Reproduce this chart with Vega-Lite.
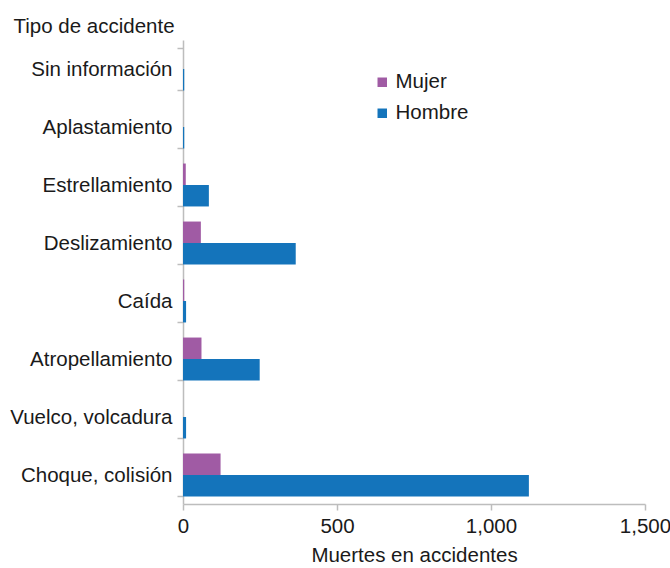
{
  "$schema": "https://vega.github.io/schema/vega-lite/v6.json",
  "width": 462,
  "height": 464,
  "autosize": {"type": "none"},
  "padding": {"left": 183, "top": 40, "right": 25, "bottom": 64},
  "background": "white",
  "config": {
    "view": {"stroke": null},
    "font": "Liberation Sans",
    "axis": {"labelFont": "Liberation Sans", "titleFont": "Liberation Sans", "labelColor": "#1a1a1a", "titleColor": "#1a1a1a", "titleFontWeight": "normal", "labelFontSize": 20.5, "titleFontSize": 20.5, "domainColor": "#bdbdbd", "tickColor": "#bdbdbd", "domainWidth": 1.5, "tickWidth": 1.5}
  },
  "data": {
    "values": [
      {"tipo": "Sin información", "sexo": "Mujer", "muertes": 0},
      {"tipo": "Sin información", "sexo": "Hombre", "muertes": 4},
      {"tipo": "Aplastamiento", "sexo": "Mujer", "muertes": 0},
      {"tipo": "Aplastamiento", "sexo": "Hombre", "muertes": 4},
      {"tipo": "Estrellamiento", "sexo": "Mujer", "muertes": 9},
      {"tipo": "Estrellamiento", "sexo": "Hombre", "muertes": 84},
      {"tipo": "Deslizamiento", "sexo": "Mujer", "muertes": 58},
      {"tipo": "Deslizamiento", "sexo": "Hombre", "muertes": 366},
      {"tipo": "Caída", "sexo": "Mujer", "muertes": 4},
      {"tipo": "Caída", "sexo": "Hombre", "muertes": 10},
      {"tipo": "Atropellamiento", "sexo": "Mujer", "muertes": 60},
      {"tipo": "Atropellamiento", "sexo": "Hombre", "muertes": 249},
      {"tipo": "Vuelco, volcadura", "sexo": "Mujer", "muertes": 0},
      {"tipo": "Vuelco, volcadura", "sexo": "Hombre", "muertes": 10},
      {"tipo": "Choque, colisión", "sexo": "Mujer", "muertes": 122},
      {"tipo": "Choque, colisión", "sexo": "Hombre", "muertes": 1123}
    ]
  },
  "mark": {"type": "bar"},
  "encoding": {
    "y": {
      "field": "tipo",
      "type": "nominal",
      "sort": ["Sin información", "Aplastamiento", "Estrellamiento", "Deslizamiento", "Caída", "Atropellamiento", "Vuelco, volcadura", "Choque, colisión"],
      "scale": {"paddingInner": 0.26, "paddingOuter": 0.13},
      "axis": {
        "title": "Tipo de accidente",
        "titleAngle": 0,
        "titleAlign": "left",
        "titleBaseline": "alphabetic",
        "titleX": -170,
        "titleY": -8,
        "tickBand": "extent",
        "tickSize": 6,
        "labelPadding": 5,
        "labelLimit": 250
      }
    },
    "yOffset": {"field": "sexo", "type": "nominal", "sort": ["Mujer", "Hombre"], "scale": {"paddingInner": 0}},
    "x": {
      "field": "muertes",
      "type": "quantitative",
      "scale": {"domain": [0, 1500]},
      "axis": {
        "title": "Muertes en accidentes",
        "values": [0, 500, 1000, 1500],
        "format": ",.0f",
        "grid": false,
        "labelFlush": false,
        "tickSize": 6,
        "labelPadding": 6,
        "titlePadding": 9
      }
    },
    "color": {
      "field": "sexo",
      "type": "nominal",
      "scale": {"domain": ["Mujer", "Hombre"], "range": ["#A05BA4", "#1474BB"]},
      "legend": {
        "title": null,
        "orient": "none",
        "legendX": 189,
        "legendY": 32,
        "symbolType": "square",
        "symbolSize": 90,
        "symbolStrokeWidth": 0,
        "labelFontSize": 20.5,
        "labelFont": "Liberation Sans",
        "labelColor": "#1a1a1a",
        "rowPadding": 10,
        "labelOffset": 3
      }
    }
  }
}
